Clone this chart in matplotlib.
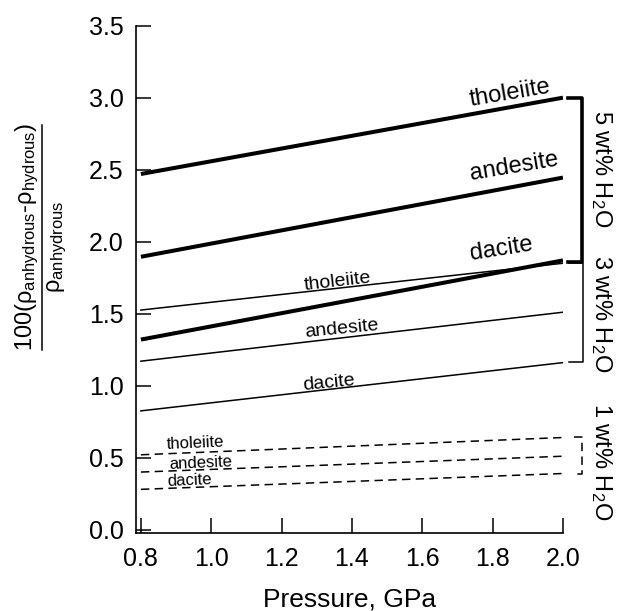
import matplotlib
matplotlib.use('Agg')
import matplotlib.pyplot as plt
from matplotlib.lines import Line2D

plt.rcParams['font.family'] = ['Liberation Sans', 'DejaVu Sans']
plt.rcParams['mathtext.fontset'] = 'custom'
plt.rcParams['mathtext.rm'] = 'Liberation Sans'
plt.rcParams['mathtext.it'] = 'Liberation Sans:italic'

# pressure end points, GPa
pressure = [0.8, 2.0]

# 100*(rho_anhydrous - rho_hydrous)/rho_anhydrous
rocks = ['tholeiite', 'andesite', 'dacite']
h2o_5 = [[2.47, 3.00], [1.895, 2.445], [1.32, 1.87]]
h2o_3 = [[1.525, 1.85], [1.17, 1.51], [0.825, 1.16]]
h2o_1 = [[0.52, 0.64], [0.40, 0.51], [0.28, 0.39]]

xticks = [0.8, 1.0, 1.2, 1.4, 1.6, 1.8, 2.0]
yticks = [0.0, 0.5, 1.0, 1.5, 2.0, 2.5, 3.0, 3.5]

fig = plt.figure(figsize=(6.17, 6.11), dpi=100)
ax = fig.add_axes([0.2204, 0.1277, 0.692, 0.8303])

# curves
for v in h2o_5:
    ax.plot(pressure, v, color='black', lw=2.9, solid_capstyle='butt')
for v in h2o_3:
    ax.plot(pressure, v, color='black', lw=1.1)
for v in h2o_1:
    ax.plot(pressure, v, color='black', lw=1.1, dashes=(5.5, 3.5))

# labels on the curves
pos_5 = [(1.85, 3.03, 9.5), (1.86, 2.52, 9.5), (1.826, 1.95, 9)]
for name, (x, y, r) in zip(rocks, pos_5):
    ax.text(x, y, name, fontsize=17, rotation=r, ha='center', va='center')
pos_3 = [(1.36, 1.725, 6.5), (1.37, 1.392, 5.5), (1.335, 1.02, 5.5)]
for name, (x, y, r) in zip(rocks, pos_3):
    ax.text(x, y, name, fontsize=14, rotation=r, ha='center', va='center')
pos_1 = [(0.955, 0.60, 2.5), (0.97, 0.46, 2.5), (0.937, 0.34, 2.5)]
for name, (x, y, r) in zip(rocks, pos_1):
    ax.text(x, y, name, fontsize=12, rotation=r, ha='center', va='center')

# brackets at right
ax.plot([2.014, 2.053, 2.053, 2.014], [3.0, 3.0, 1.86, 1.86], color='black',
        lw=2.6, clip_on=False)
ax.plot([2.017, 2.056, 2.056, 2.017], [1.85, 1.85, 1.165, 1.165], color='black',
        lw=1.1, clip_on=False)
ax.plot([2.03, 2.053, 2.053, 2.03], [0.645, 0.645, 0.39, 0.39], color='black',
        lw=1.1, dashes=(5.5, 3.5), clip_on=False)

ax.text(2.11, 2.51, '5 wt% H$_2$O', fontsize=17, rotation=-90,
        ha='center', va='center', clip_on=False)
ax.text(2.11, 1.5, '3 wt% H$_2$O', fontsize=17, rotation=-90,
        ha='center', va='center', clip_on=False)
ax.text(2.11, 0.475, '1 wt% H$_2$O', fontsize=17, rotation=-90,
        ha='center', va='center', clip_on=False)

ax.set_xlim(0.786, 2.0)
ax.set_ylim(-0.023, 3.5)
ax.set_xticks(xticks)
ax.set_yticks(yticks)
ax.set_xticklabels(['%.1f' % t for t in xticks])
ax.set_yticklabels(['%.1f' % t for t in yticks])
ax.tick_params(direction='in', length=11, width=1.1, labelsize=18)
ax.tick_params(axis='y', pad=9)
ax.tick_params(axis='x', pad=10)
ax.spines['top'].set_visible(False)
ax.spines['right'].set_visible(False)
for s in ['left', 'bottom']:
    ax.spines[s].set_linewidth(1.2)

ax.set_xlabel('Pressure, GPa', fontsize=19, labelpad=12)

# y label as a fraction
fig.text(27 / 617, 1 - 237 / 611,
         '100(ρ$_{\\mathregular{anhydrous}}$-ρ$_{\\mathregular{hydrous}}$)',
         fontsize=17, rotation=90, ha='center', va='center')
fig.text(57 / 617, 1 - 247 / 611, 'ρ$_{\\mathregular{anhydrous}}$',
         fontsize=17, rotation=90, ha='center', va='center')
fig.add_artist(Line2D([42 / 617, 42 / 617], [1 - 125 / 611, 1 - 350 / 611],
                      transform=fig.transFigure, color='black', lw=1.1))

fig.savefig('out.png', dpi=100)
